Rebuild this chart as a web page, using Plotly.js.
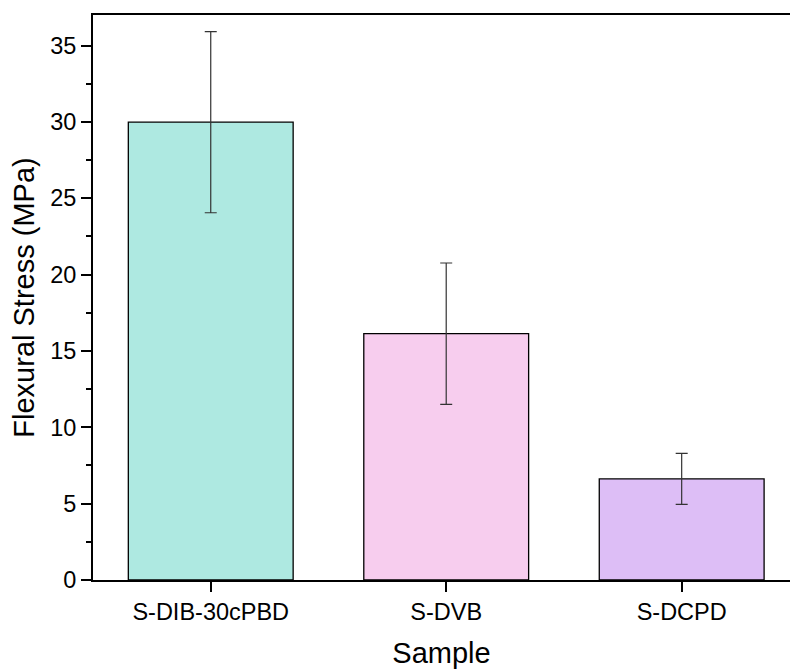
<!DOCTYPE html>
<html><head><meta charset="utf-8">
<script src="https://cdn.plot.ly/plotly-3.0.1.min.js"></script>
<style>body{margin:0;background:#fff}#chart{width:790px;height:669px}</style>
</head><body><div id="chart"></div>
<script>
const categories = ["S-DIB-30cPBD", "S-DVB", "S-DCPD"];
const stress = [29.98, 16.13, 6.62];
const stressErr = [5.93, 4.63, 1.67];
const barColors = ["#AEE9E1", "#F7CDEE", "#DDBEF6"];

const trace = {
  type: "bar",
  x: categories,
  y: stress,
  width: 0.7,
  marker: {color: barColors, line: {color: "#000", width: 1.3}},
  error_y: {type: "data", array: stressErr, visible: true, color: "#333", thickness: 1.2, width: 6}
};
const layout = {
  width: 790, height: 669,
  margin: {l: 93, r: 0, t: 15, b: 89},
  paper_bgcolor: "#fff", plot_bgcolor: "#fff",
  showlegend: false,
  font: {family: "Liberation Sans, Arial, sans-serif", color: "#000"},
  xaxis: {
    type: "category", range: [-0.5, 2.46],
    showline: true, linecolor: "#000", linewidth: 2, mirror: true,
    ticks: "outside", ticklen: 10, tickwidth: 2, tickcolor: "#000",
    tickfont: {size: 23.5}, showgrid: false, zeroline: false,
    title: {text: "Sample", font: {size: 29}, standoff: 18}
  },
  yaxis: {
    range: [0, 37], dtick: 5, tick0: 0,
    showline: true, linecolor: "#000", linewidth: 2,
    ticks: "outside", ticklen: 10, tickwidth: 2, tickcolor: "#000",
    minor: {dtick: 2.5, ticks: "outside", ticklen: 5, tickwidth: 2, tickcolor: "#000", showgrid: false},
    tickfont: {size: 23.5}, showgrid: false, zeroline: false,
    title: {text: "Flexural Stress (MPa)", font: {size: 29}, standoff: 7}
  }
};
Plotly.newPlot("chart", [trace], layout, {displayModeBar: false, staticPlot: true});
</script></body></html>
